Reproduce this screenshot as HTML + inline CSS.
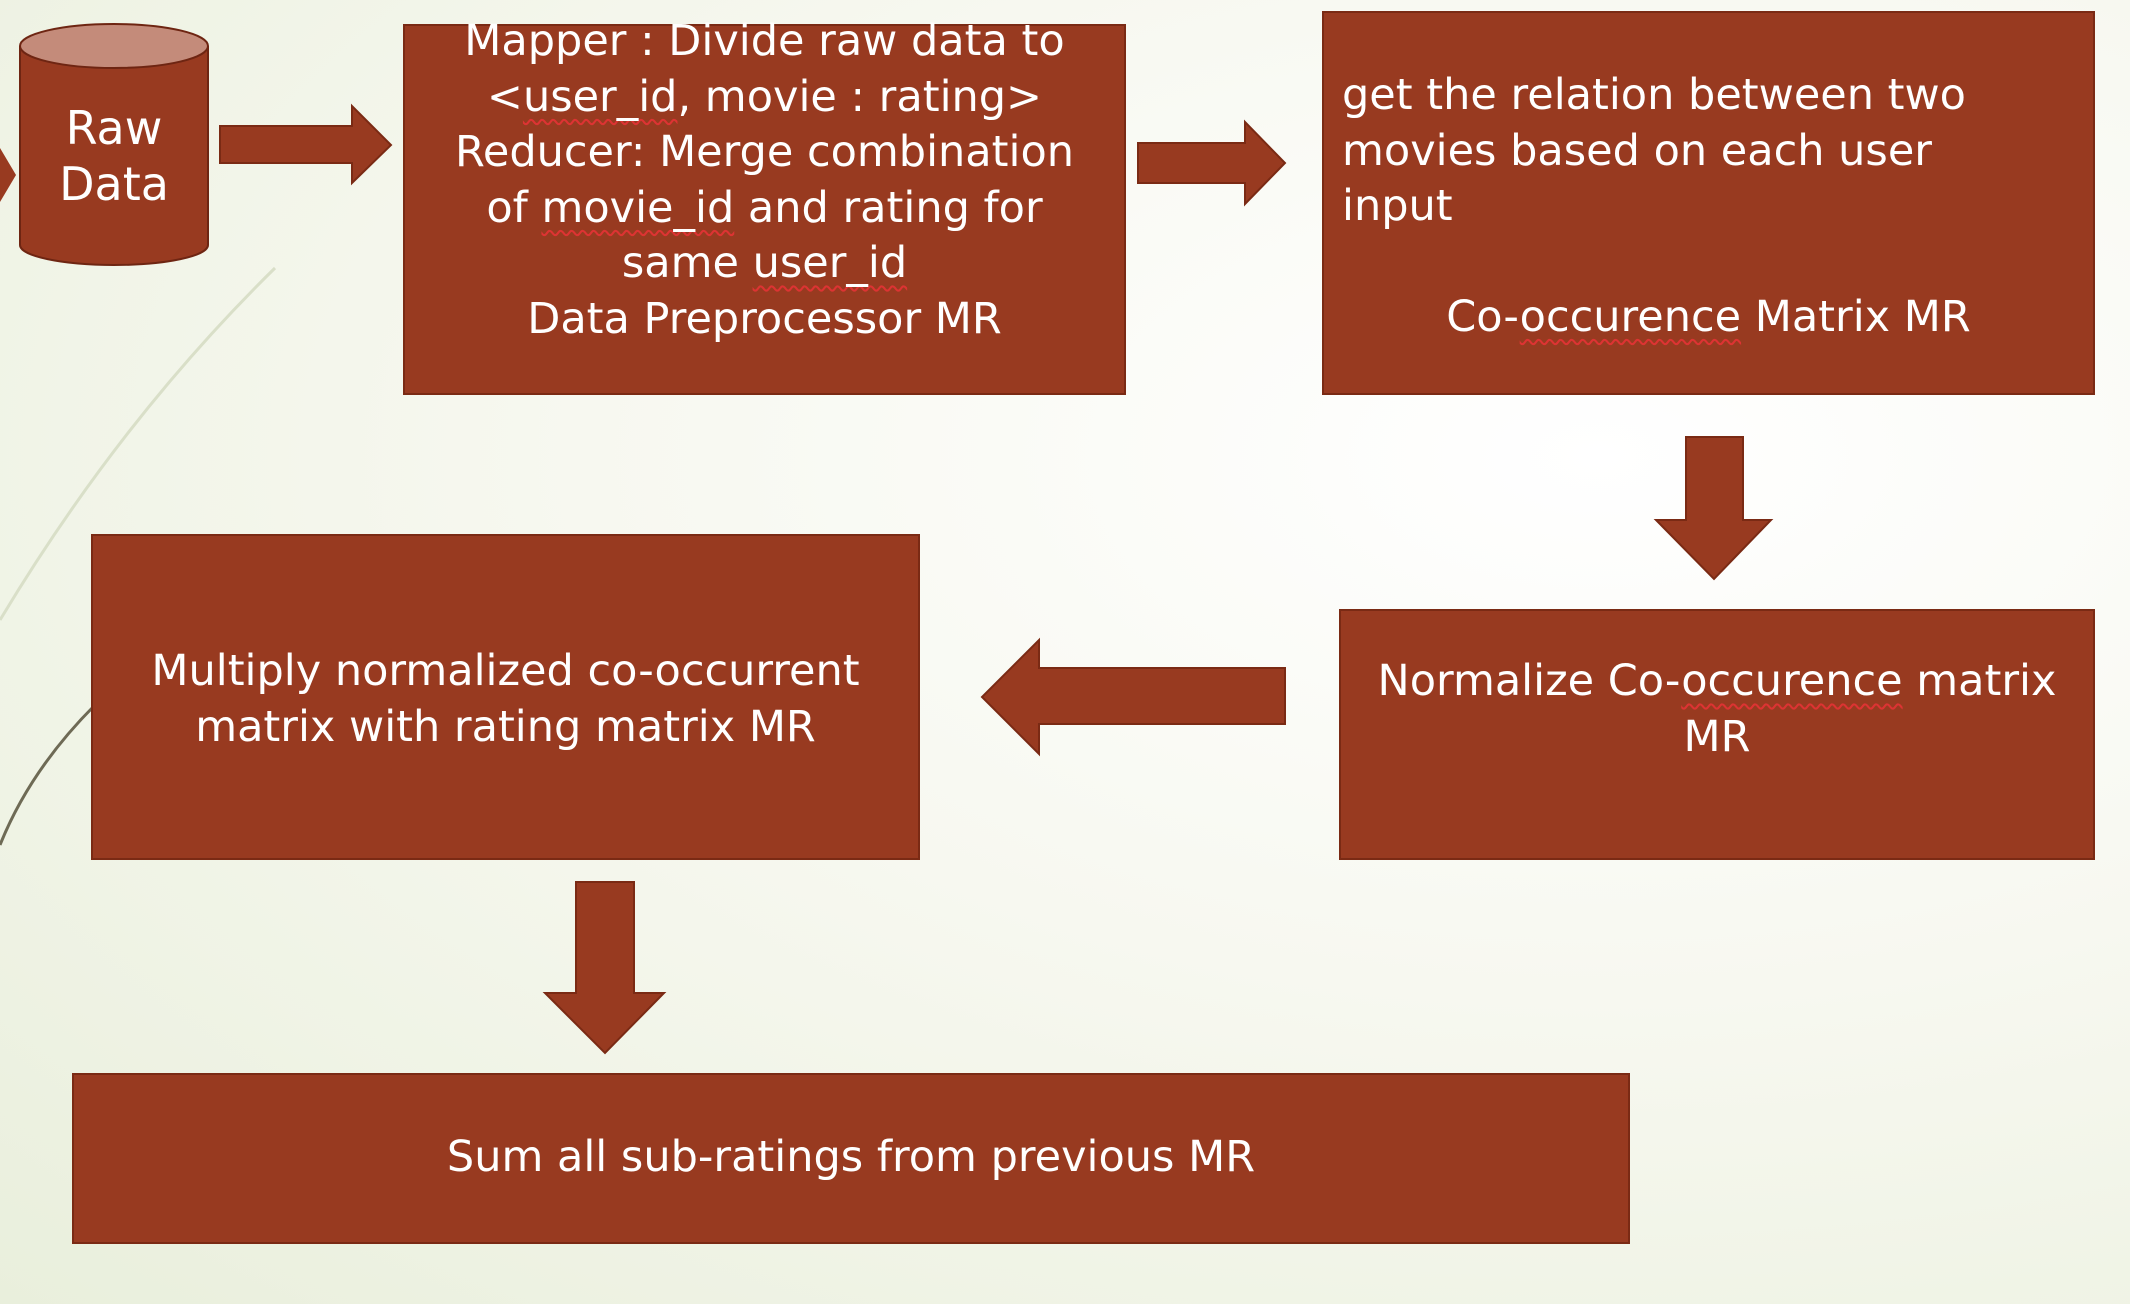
<!DOCTYPE html>
<html><head><meta charset="utf-8"><style>
html,body{margin:0;padding:0}
body{width:2130px;height:1304px;position:relative;overflow:hidden;
background:radial-gradient(ellipse at 75% 35%,#ffffff 0%,#f7f8f0 45%,#e9efdc 100%);
font-family:"DejaVu Sans","Liberation Sans",sans-serif;color:#fff}
.box{position:absolute;background:#983a20;border:2px solid #7a2a14;box-sizing:border-box;font-size:43px;line-height:55.5px}
.c{text-align:center}
.u{text-decoration:underline wavy #d33;text-decoration-thickness:2px;text-underline-offset:8px}
</style></head><body>
<svg width="2130" height="1304" style="position:absolute;left:0;top:0">
<path d="M275 268 Q120 420 0 620" stroke="#d9dfc8" stroke-width="3" fill="none"/>
<path d="M95 705 Q30 770 0 845" stroke="#6e6a55" stroke-width="3" fill="none"/>
<polygon points="0,148 16,175 0,202" fill="#983a20"/>
<!-- cylinder -->
<path d="M20 46 L20 245 A94 20 0 0 0 208 245 L208 46" fill="#983a20" stroke="#6e2512" stroke-width="2"/>
<ellipse cx="114" cy="46" rx="94" ry="22" fill="#c48b7a" stroke="#6e2512" stroke-width="2"/>
<!-- arrow1 -->
<polygon points="220,126 352,126 352,106 391,145 352,183 352,163 220,163" fill="#983a20" stroke="#7a2a14" stroke-width="2"/>
<!-- arrow2 -->
<polygon points="1138,143 1245,143 1245,122 1285,163 1245,204 1245,183 1138,183" fill="#983a20" stroke="#7a2a14" stroke-width="2"/>
<!-- down arrow1 -->
<polygon points="1686,437 1743,437 1743,520 1771,520 1714,579 1656,520 1686,520" fill="#983a20" stroke="#7a2a14" stroke-width="2"/>
<!-- left arrow -->
<polygon points="1285,668 1039,668 1039,640 982,697 1039,754 1039,724 1285,724" fill="#983a20" stroke="#7a2a14" stroke-width="2"/>
<!-- down arrow2 -->
<polygon points="576,882 634,882 634,993 664,993 605,1053 545,993 576,993" fill="#983a20" stroke="#7a2a14" stroke-width="2"/>
</svg>
<div style="position:absolute;left:20px;top:100px;width:188px;text-align:center;font-size:46px;line-height:56px">Raw<br>Data</div>
<div class="box c" style="left:403px;top:24px;width:723px;height:371px;padding-top:0">
<div style="margin-top:-12px">Mapper : Divide raw data to<br>&lt;<span class="u">user_id</span>, movie : rating&gt;<br>Reducer: Merge combination<br>of <span class="u">movie_id</span> and rating for<br>same <span class="u">user_id</span><br>Data Preprocessor MR</div></div>
<div class="box" style="left:1322px;top:11px;width:773px;height:384px;padding:55px 0 0 18px">get the relation between two<br>movies based on each user<br>input<br><div class="c" style="margin-top:55px;margin-left:-18px">Co-<span class="u">occurence</span> Matrix MR</div></div>
<div class="box c" style="left:1339px;top:609px;width:756px;height:251px;padding-top:43px">Normalize Co-<span class="u">occurence</span> matrix<br>MR</div>
<div class="box c" style="left:91px;top:534px;width:829px;height:326px;padding-top:108px">Multiply normalized co-occurrent<br>matrix with rating matrix MR</div>
<div class="box c" style="left:72px;top:1073px;width:1558px;height:171px;padding-top:55px">Sum all sub-ratings from previous MR</div>
</body></html>
